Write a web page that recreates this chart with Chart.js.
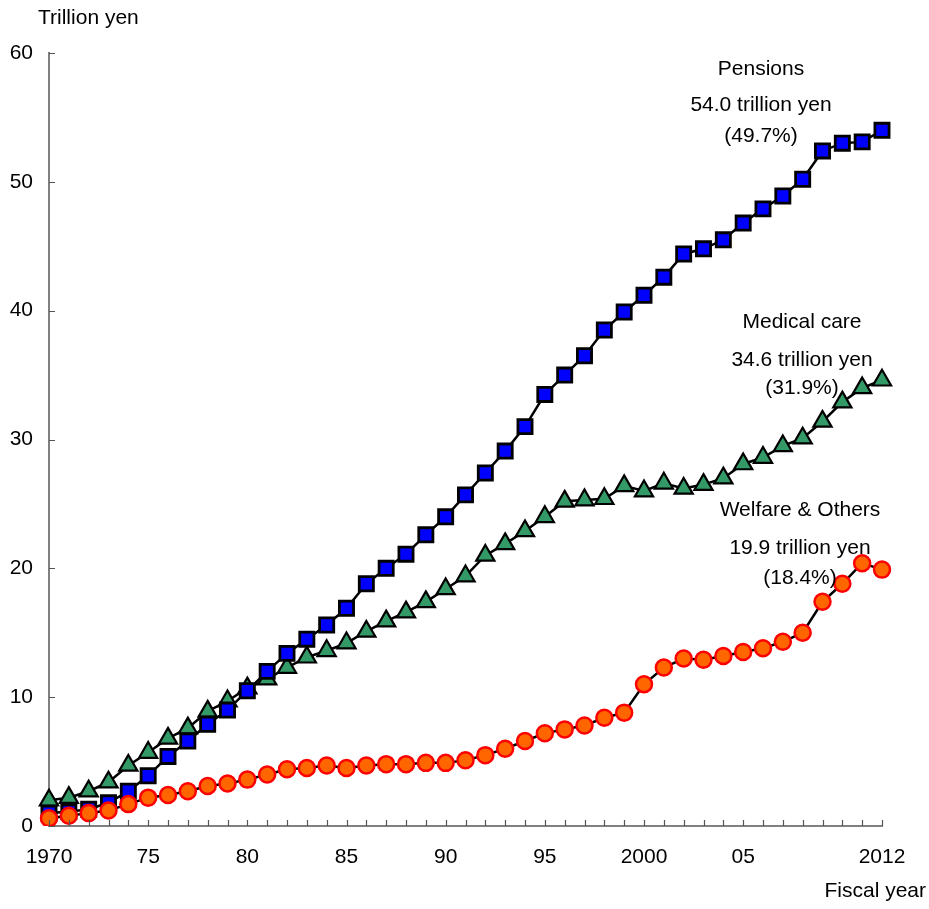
<!DOCTYPE html>
<html>
<head>
<meta charset="utf-8">
<script src="https://cdn.jsdelivr.net/npm/chart.js@4.4.1/dist/chart.umd.min.js"></script>
<style>
  html, body { margin: 0; padding: 0; background: #ffffff; }
  #wrap { width: 929px; height: 909px; position: relative; }
</style>
</head>
<body>
<div id="wrap"><canvas id="chart"></canvas></div>
<script>
// Fiscal years 1970-2012
const fiscalYears = [
  '1970','1971','1972','1973','1974','1975','1976','1977','1978','1979',
  '1980','1981','1982','1983','1984','1985','1986','1987','1988','1989',
  '1990','1991','1992','1993','1994','1995','1996','1997','1998','1999',
  '2000','2001','2002','2003','2004','2005','2006','2007','2008','2009',
  '2010','2011','2012'
];

// Labels printed under the year axis (blank = tick mark only)
const yearTickLabels = [
  '1970','','','','','75','','','','',
  '80','','','','','85','','','','',
  '90','','','','','95','','','','',
  '2000','','','','','05','','','','',
  '','','2012'
];

// Social security benefits by category, trillion yen
const pensions = [
  1.0, 1.1, 1.3, 1.8, 2.7, 3.9, 5.4, 6.6, 7.9, 9.0,
  10.5, 12.0, 13.4, 14.5, 15.6, 16.9, 18.8, 20.0, 21.1, 22.6,
  24.0, 25.7, 27.4, 29.1, 31.0, 33.5, 35.0, 36.5, 38.5, 39.9,
  41.2, 42.6, 44.4, 44.8, 45.5, 46.8, 47.9, 48.9, 50.2, 52.4,
  53.0, 53.1, 54.0
];
const medicalCare = [
  2.0, 2.2, 2.7, 3.4, 4.7, 5.7, 6.8, 7.6, 8.9, 9.7,
  10.7, 11.4, 12.3, 13.1, 13.6, 14.2, 15.1, 15.9, 16.6, 17.4,
  18.4, 19.4, 21.0, 21.9, 22.9, 24.0, 25.2, 25.3, 25.4, 26.4,
  26.0, 26.6, 26.2, 26.5, 27.0, 28.1, 28.6, 29.5, 30.1, 31.4,
  32.9, 34.0, 34.6
];
const welfareOthers = [
  0.6, 0.8, 1.0, 1.2, 1.7, 2.2, 2.4, 2.7, 3.1, 3.3,
  3.6, 4.0, 4.4, 4.5, 4.7, 4.5, 4.7, 4.8, 4.8, 4.9,
  4.9, 5.1, 5.5, 6.0, 6.6, 7.2, 7.5, 7.8, 8.4, 8.8,
  11.0, 12.3, 13.0, 12.9, 13.2, 13.5, 13.8, 14.3, 15.0, 17.4,
  18.8, 20.4, 19.9
];

const yTicks = [0, 10, 20, 30, 40, 50, 60];

// Series captions: name, amount and share
const seriesNotes = [
  { lines: ['Pensions', '54.0 trillion yen', '(49.7%)'], dx: -121, ys: [69, 105, 136] },
  { lines: ['Medical care', '34.6 trillion yen', '(31.9%)'], dx: -80, ys: [322, 360, 388] },
  { lines: ['Welfare & Others', '19.9 trillion yen', '(18.4%)'], dx: -82, ys: [510, 548, 578] }
];

const FONT = '"Liberation Sans", Arial, sans-serif';

// Inward tick marks, axis titles and series captions
const decorations = {
  id: 'decorations',
  afterDatasetsDraw(chart) {
    const { ctx, chartArea, scales } = chart;
    const x = scales.x, y = scales.y;
    ctx.save();
    ctx.strokeStyle = '#555555';
    ctx.lineWidth = 1.2;
    ctx.beginPath();
    for (let i = 0; i < fiscalYears.length; i++) {
      const px = Math.round(x.getPixelForValue(i)) + 0.5;
      ctx.moveTo(px, chartArea.bottom);
      ctx.lineTo(px, chartArea.bottom - 6);
    }
    yTicks.forEach(v => {
      const py = Math.round(y.getPixelForValue(v)) + 0.5;
      ctx.moveTo(chartArea.left, py);
      ctx.lineTo(chartArea.left + 6, py);
    });
    ctx.stroke();

    ctx.fillStyle = '#000000';
    ctx.font = '21px ' + FONT;
    ctx.textBaseline = 'middle';
    ctx.textAlign = 'left';
    ctx.fillText('Trillion yen', 38, 18);
    ctx.textAlign = 'right';
    ctx.fillText('Fiscal year', 926, 891);

    ctx.textAlign = 'center';
    seriesNotes.forEach(n => {
      const cx = chartArea.right + n.dx;
      n.lines.forEach((t, k) => ctx.fillText(t, cx, n.ys[k]));
    });
    ctx.restore();
  }
};

new Chart(document.getElementById('chart'), {
  type: 'line',
  data: {
    labels: fiscalYears,
    datasets: [
      {
        label: 'Welfare & Others',
        data: welfareOthers,
        order: 0,
        borderColor: '#000000',
        borderWidth: 2.5,
        pointStyle: 'circle',
        pointRadius: 8,
        pointBorderWidth: 2.5,
        pointBackgroundColor: '#ff6600',
        pointBorderColor: '#ff0000',
        tension: 0
      },
      {
        label: 'Pensions',
        data: pensions,
        order: 1,
        borderColor: '#000000',
        borderWidth: 2.5,
        pointStyle: 'rect',
        pointRadius: 10,
        pointBorderWidth: 2.8,
        pointBackgroundColor: '#0000ff',
        pointBorderColor: '#000000',
        tension: 0
      },
      {
        label: 'Medical care',
        data: medicalCare,
        order: 2,
        borderColor: '#000000',
        borderWidth: 2.5,
        pointStyle: 'triangle',
        pointRadius: 10.5,
        pointBorderWidth: 2.2,
        pointBackgroundColor: '#339966',
        pointBorderColor: '#000000',
        tension: 0
      }
    ]
  },
  options: {
    responsive: true,
    maintainAspectRatio: false,
    animation: false,
    layout: { padding: { left: 0, right: 47, top: 53, bottom: 43 } },
    plugins: { legend: { display: false }, tooltip: { enabled: false } },
    scales: {
      x: {
        type: 'category',
        offset: false,
        afterFit: s => { s.height = 40; },
        border: { display: true, color: '#808080', width: 2 },
        grid: { display: true, drawOnChartArea: false, drawTicks: false },
        ticks: {
          autoSkip: false,
          maxRotation: 0,
          padding: 19,
          color: '#000000',
          font: { family: FONT, size: 21 },
          callback: (v, i) => yearTickLabels[i]
        }
      },
      y: {
        min: 0,
        max: 60,
        afterFit: s => { s.width = 49; },
        border: { display: true, color: '#808080', width: 2 },
        grid: { display: true, drawOnChartArea: false, drawTicks: false },
        afterBuildTicks: s => { s.ticks = yTicks.map(v => ({ value: v })); },
        ticks: {
          padding: 16,
          color: '#000000',
          font: { family: FONT, size: 21 }
        }
      }
    }
  },
  plugins: [decorations]
});
</script>
</body>
</html>
